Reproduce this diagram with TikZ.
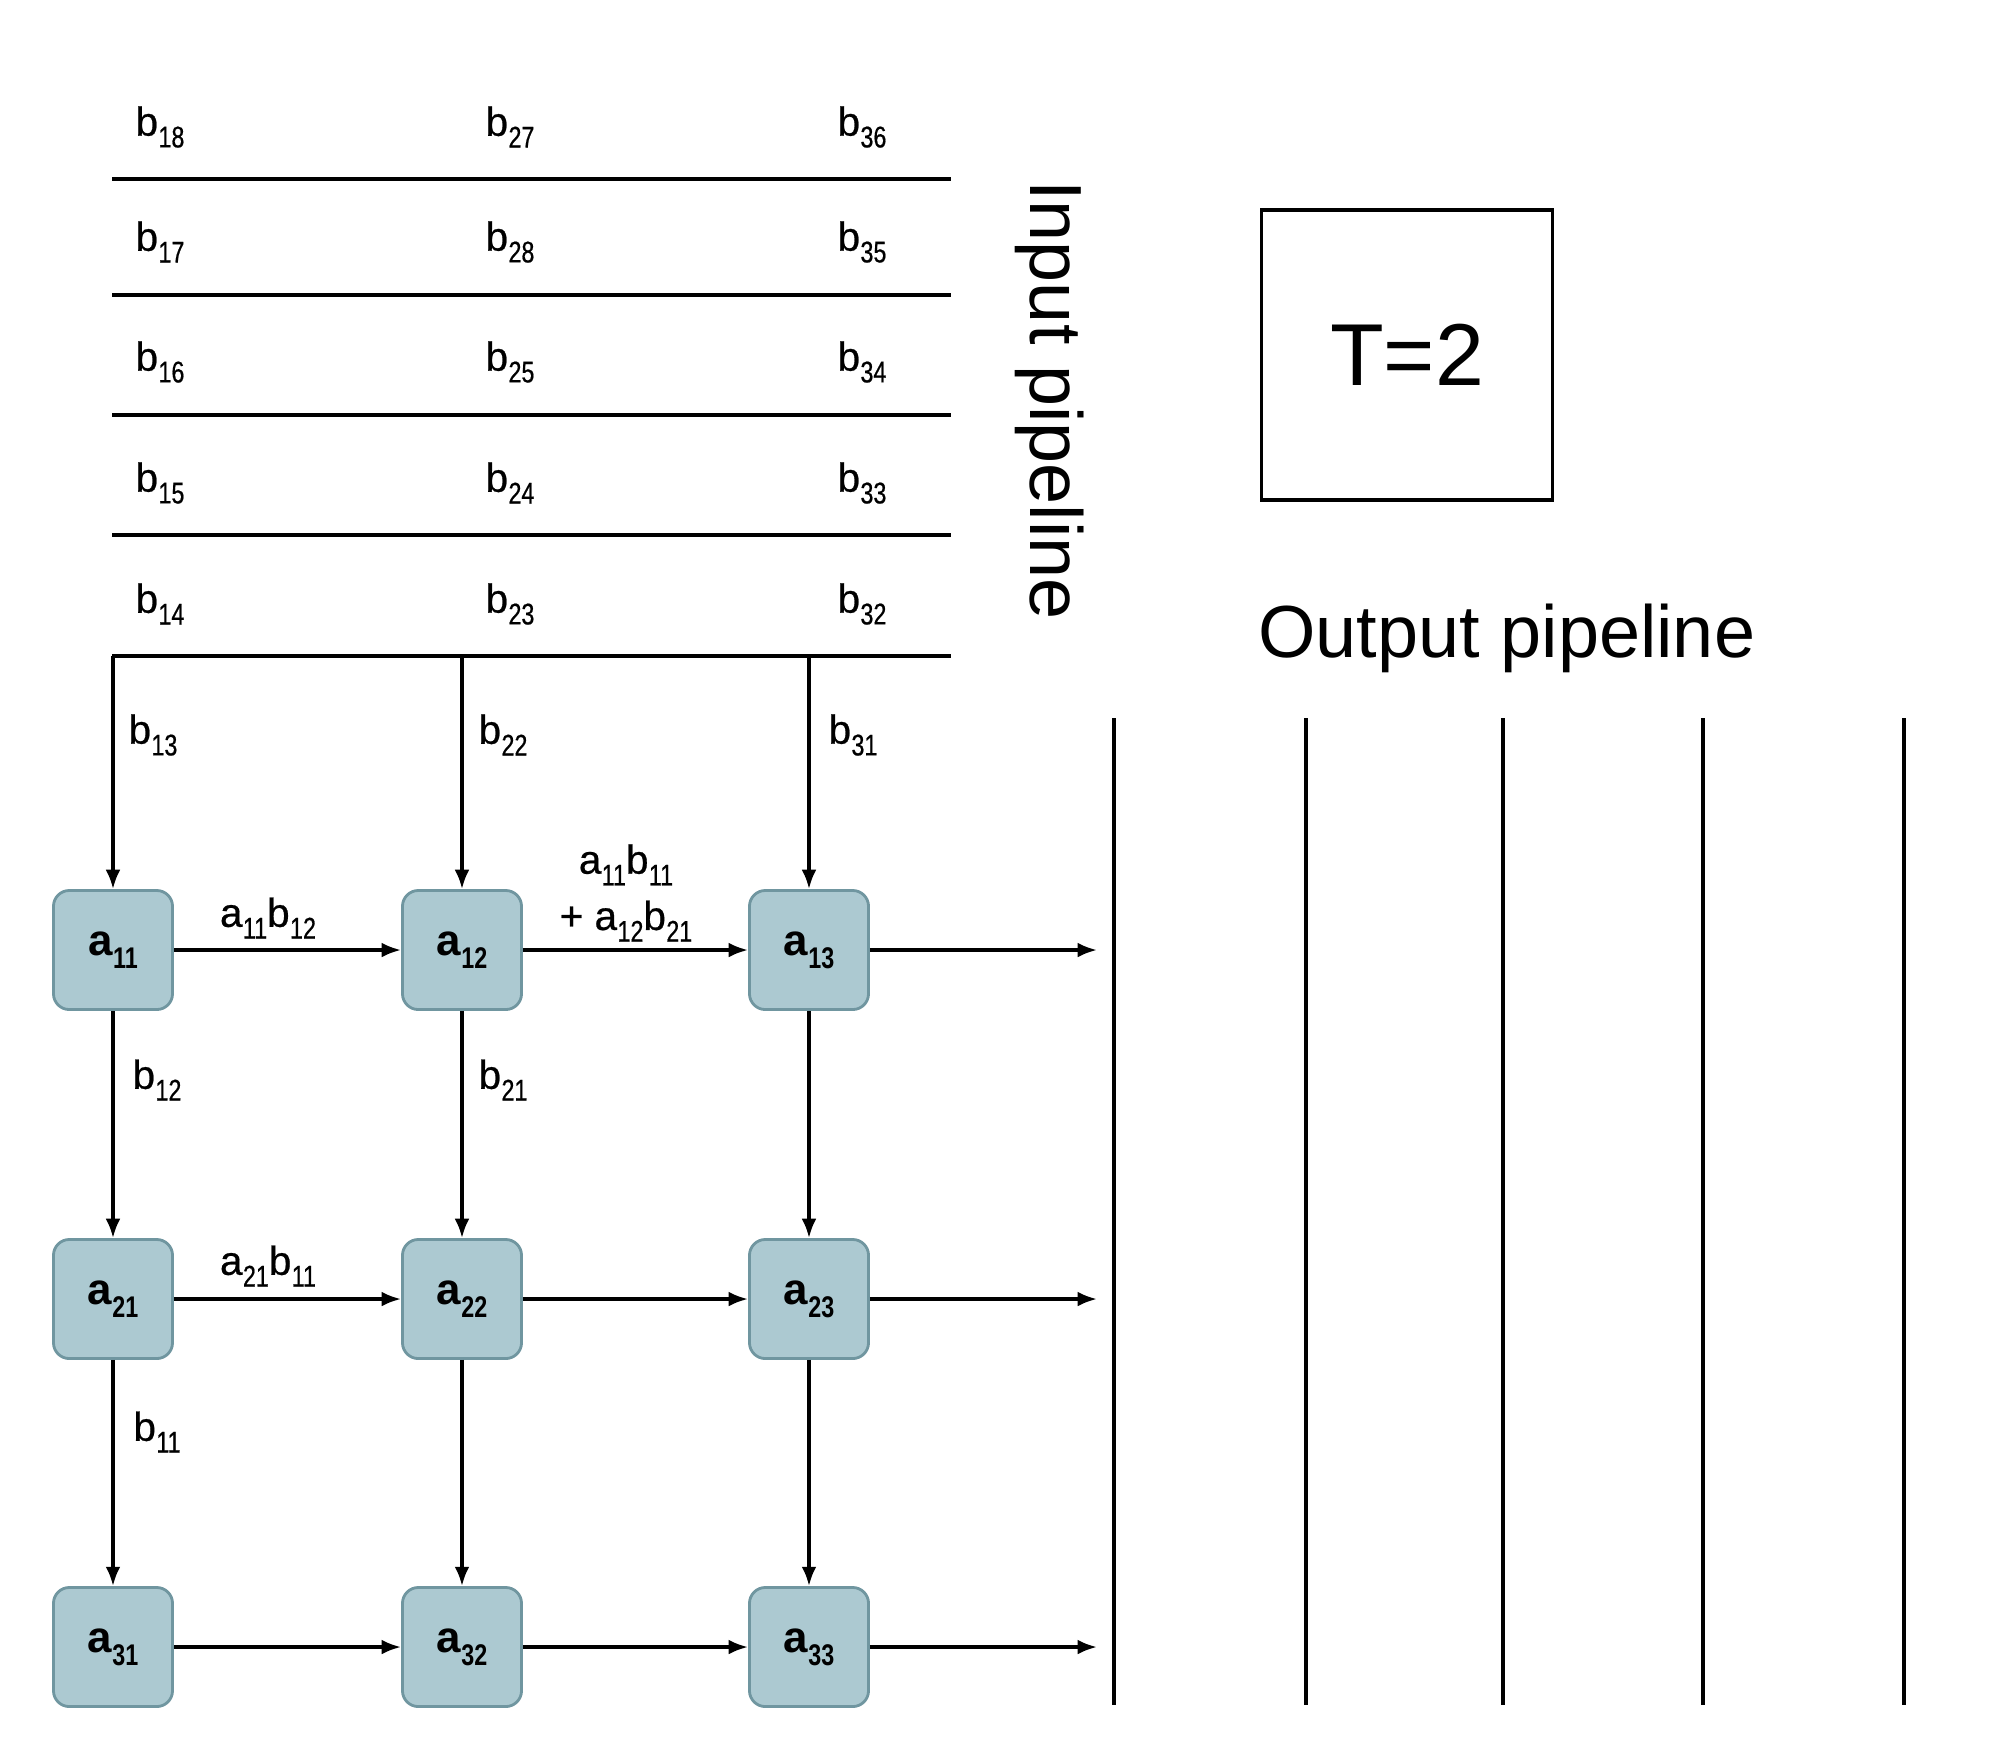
\documentclass[tikz,border=0pt]{standalone}
\usepackage{fontspec}
\setmainfont{Liberation Sans}
\usetikzlibrary{arrows.meta}
\definecolor{pefill}{RGB}{172,201,209}
\definecolor{pedraw}{RGB}{112,150,160}
% letter with a lowered, narrow index
\newcommand\ix[2]{#1\kern0.01em\raisebox{-0.55ex}{\fontsize{8.5}{9}\selectfont\addfontfeature{FakeStretch=0.78}#2}}
\begin{document}
\begin{tikzpicture}[x=0.01cm,y=-0.01cm,
  pe/.style={draw=pedraw,line width=0.8pt,fill=pefill,rounded corners=4.5pt,
    minimum width=1.19cm,minimum height=1.19cm,
    font=\fontsize{12.5}{12}\bfseries,inner sep=0pt},
  lbl/.style={font=\fontsize{11.5}{13}\selectfont\addfontfeature{FakeBold=0.6},inner sep=1pt},
  flow/.style={line width=0.95pt,-{Latex[length=5.5pt,width=4.2pt]}},
  rule/.style={line width=1.1pt}]
\useasboundingbox (0,0) rectangle (1994,1756);

% input pipeline register rows
\foreach \y in {179,295,415,535,656}
  \draw[rule] (112,\y) -- (951,\y);
\foreach \y/\p/\q/\r in {127/18/27/36,242/17/28/35,362/16/25/34,483/15/24/33,604/14/23/32}{
  \node[lbl] at (160,\y) {\ix{b}{\p}};
  \node[lbl] at (510,\y) {\ix{b}{\q}};
  \node[lbl] at (862,\y) {\ix{b}{\r}};
}
\node[rotate=-90,font=\fontsize{21}{24}\selectfont] (inlbl) at (1050,400) {Input pipeline};

% clock box
\node[draw,line width=1pt,minimum width=2.91cm,minimum height=2.9cm,
  font=\fontsize{25}{28}\selectfont] (clk) at (1407,355) {T=2};
\node[font=\fontsize{21}{24}\selectfont,anchor=west] (outlbl) at (1246,638) {Output pipeline};

% output pipeline lanes
\foreach \x in {1114,1306,1503,1703,1904}
  \draw[rule] (\x,718) -- (\x,1705);

% processing elements
\node[pe] (a11) at (113,950) {\ix{a}{11}};
\node[pe] (a12) at (462,950) {\ix{a}{12}};
\node[pe] (a13) at (809,950) {\ix{a}{13}};
\node[pe] (a21) at (113,1299) {\ix{a}{21}};
\node[pe] (a22) at (462,1299) {\ix{a}{22}};
\node[pe] (a23) at (809,1299) {\ix{a}{23}};
\node[pe] (a31) at (113,1647) {\ix{a}{31}};
\node[pe] (a32) at (462,1647) {\ix{a}{32}};
\node[pe] (a33) at (809,1647) {\ix{a}{33}};

% feed points on the last register row and output lane
\coordinate (t1) at (113,656);
\coordinate (t2) at (462,656);
\coordinate (t3) at (809,656);
\coordinate (o1) at (1097,950);
\coordinate (o2) at (1097,1299);
\coordinate (o3) at (1097,1647);

\draw[flow] (t1) -- (a11);
\draw[flow] (t2) -- (a12);
\draw[flow] (t3) -- (a13);
\draw[flow] (a11) -- (a21);
\draw[flow] (a21) -- (a31);
\draw[flow] (a12) -- (a22);
\draw[flow] (a22) -- (a32);
\draw[flow] (a13) -- (a23);
\draw[flow] (a23) -- (a33);
\draw[flow] (a11) -- (a12);
\draw[flow] (a12) -- (a13);
\draw[flow] (a13) -- (o1);
\draw[flow] (a21) -- (a22);
\draw[flow] (a22) -- (a23);
\draw[flow] (a23) -- (o2);
\draw[flow] (a31) -- (a32);
\draw[flow] (a32) -- (a33);
\draw[flow] (a33) -- (o3);

% values in flight
\node[lbl] (l13) at (153,735) {\ix{b}{13}};
\node[lbl] (l22) at (503,735) {\ix{b}{22}};
\node[lbl] (l31) at (853,735) {\ix{b}{31}};
\node[lbl] (l12) at (157,1080) {\ix{b}{12}};
\node[lbl] (l21) at (503,1080) {\ix{b}{21}};
\node[lbl] (l11) at (157,1432) {\ix{b}{11}};
\node[lbl] (p1) at (268,918) {\ix{a}{11}\ix{b}{12}};
\node[lbl] (p3) at (268,1266) {\ix{a}{21}\ix{b}{11}};
\node[lbl,align=center] (p2) at (626,893) {\ix{a}{11}\ix{b}{11}\\[3pt]+ \ix{a}{12}\ix{b}{21}};
\end{tikzpicture}
\end{document}
